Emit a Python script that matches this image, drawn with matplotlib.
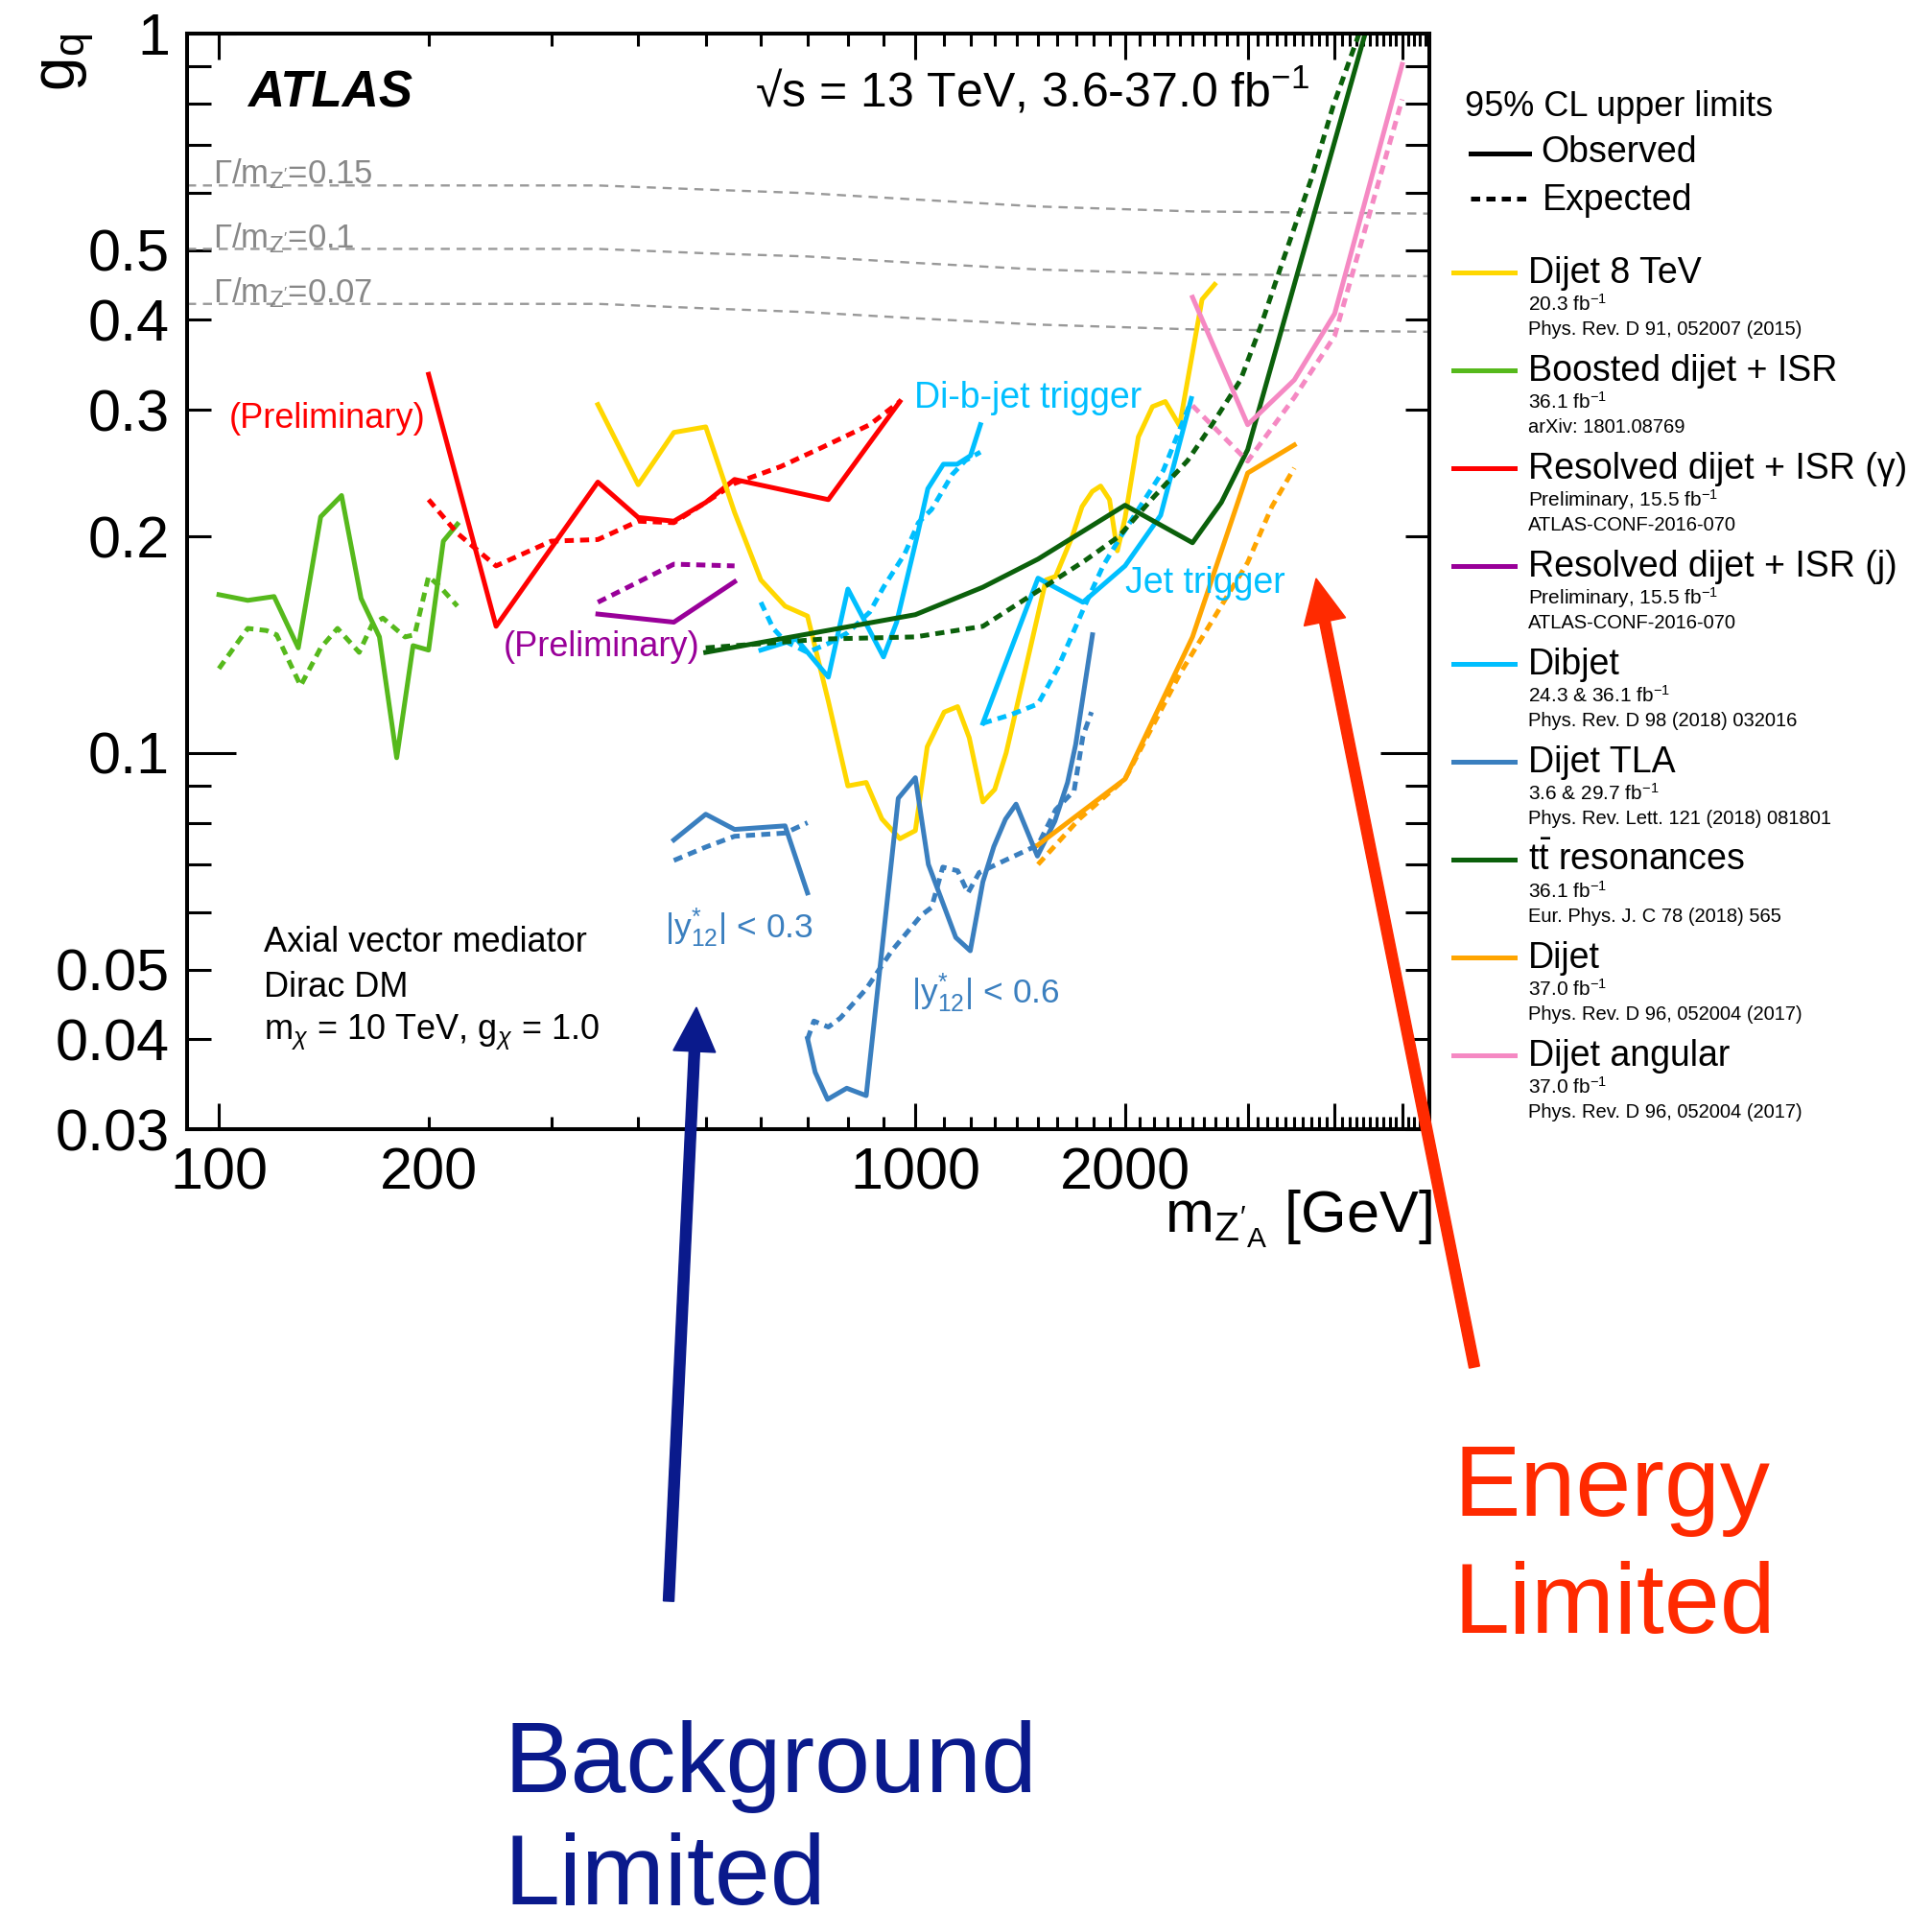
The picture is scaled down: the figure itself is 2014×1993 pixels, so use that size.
import matplotlib
matplotlib.use('Agg')
import matplotlib.pyplot as plt
from matplotlib.patches import FancyArrow
from matplotlib.transforms import IdentityTransform

plt.rcParams['font.family'] = ['Liberation Sans', 'DejaVu Sans']
plt.rcParams['mathtext.fontset'] = 'custom'
plt.rcParams['mathtext.rm'] = 'Liberation Sans'
plt.rcParams['mathtext.it'] = 'Liberation Sans:italic'
plt.rcParams['mathtext.bf'] = 'Liberation Sans:bold'

# ---------------- data ----------------
# Boosted dijet + ISR
boost_x = [100, 110, 120, 130, 140, 150, 160, 170, 180, 190, 200, 210, 220]
boost_obs = [0.166, 0.163, 0.165, 0.140, 0.213, 0.228, 0.164, 0.145, 0.0985, 0.141, 0.139, 0.197, 0.208]
boost_exp_x = [100, 110, 117, 121, 131, 140, 148, 159, 166, 172, 185, 191, 200, 208, 220]
boost_exp = [0.131, 0.149, 0.148, 0.146, 0.124, 0.140, 0.149, 0.138, 0.151, 0.154, 0.145, 0.146, 0.176, 0.170, 0.160]

# Resolved dijet + ISR (gamma)
resg_x = [200, 250, 350, 400, 450, 500, 550, 750, 950]
resg_obs = [0.336, 0.150, 0.238, 0.2125, 0.210, 0.223, 0.240, 0.225, 0.308]
resg_exp_x = [200, 220, 250, 300, 350, 400, 450, 500, 550, 640, 735, 860, 950]
resg_exp = [0.225, 0.202, 0.182, 0.197, 0.198, 0.210, 0.209, 0.223, 0.237, 0.250, 0.266, 0.286, 0.308]

# Resolved dijet + ISR (j)
resj_x = [350, 450, 550]
resj_obs = [0.156, 0.152, 0.173]
resj_exp = [0.162, 0.183, 0.182]

# Dijet 8 TeV
d8_x = [350, 400, 450, 500, 550, 600, 650, 700, 750, 800, 850, 895, 950, 1000, 1040, 1100, 1150,
        1195, 1250, 1300, 1350, 1540, 1590, 1680, 1735, 1795, 1845, 1900, 1950, 2000, 2090, 2190,
        2285, 2395, 2580, 2690]
d8_obs = [0.305, 0.236, 0.279, 0.284, 0.216, 0.174, 0.160, 0.155, 0.118, 0.090, 0.091, 0.081, 0.076,
          0.078, 0.102, 0.114, 0.116, 0.105, 0.0855, 0.089, 0.100, 0.174, 0.176, 0.200, 0.220, 0.231,
          0.235, 0.225, 0.191, 0.212, 0.275, 0.303, 0.308, 0.285, 0.427, 0.448]

# Dibjet: di-b-jet trigger and jet trigger
dbb_x = [600, 675, 750, 800, 900, 940, 1008, 1042, 1097, 1148, 1200, 1240]
dbb_obs = [0.139, 0.144, 0.1275, 0.169, 0.136, 0.152, 0.202, 0.233, 0.252, 0.252, 0.259, 0.286]
dbb_exp_x = [600, 625, 650, 700, 750, 800, 860, 900, 965, 1010, 1055, 1130, 1180, 1240]
dbb_exp = [0.162, 0.149, 0.143, 0.138, 0.142, 0.147, 0.157, 0.170, 0.189, 0.209, 0.218, 0.244, 0.255, 0.262]
djt_x = [1250, 1500, 1740, 2000, 2250, 2490]
djt_obs = [0.110, 0.175, 0.162, 0.182, 0.214, 0.311]
djt_exp_x = [1250, 1370, 1500, 1600, 1750, 1860, 1960, 2270, 2470]
djt_exp = [0.110, 0.113, 0.117, 0.131, 0.160, 0.182, 0.198, 0.247, 0.303]

# Dijet TLA, |y*12| < 0.3 and < 0.6
tla3_x = [450, 500, 550, 650, 700]
tla3_obs = [0.0757, 0.0822, 0.0783, 0.0792, 0.0639]
tla3_exp = [0.0709, 0.0740, 0.0766, 0.0774, 0.0800]
tla6_x = [700, 718, 748, 797, 850, 945, 1000, 1044, 1143, 1199, 1250, 1296, 1347, 1395, 1497,
          1586, 1654, 1699, 1796]
tla6_obs = [0.0401, 0.036, 0.033, 0.0342, 0.0334, 0.0865, 0.0924, 0.070, 0.0554, 0.0531, 0.0662,
            0.0741, 0.0809, 0.0849, 0.0719, 0.0804, 0.091, 0.1028, 0.146]
tla6_exp_x = [700, 715, 750, 780, 850, 925, 1020, 1055, 1095, 1150, 1190, 1235, 1340, 1500, 1590,
              1690, 1740, 1790]
tla6_exp = [0.040, 0.0424, 0.0416, 0.0428, 0.047, 0.0531, 0.0595, 0.061, 0.0694, 0.0686, 0.0639,
            0.0682, 0.0708, 0.0745, 0.0834, 0.0886, 0.1055, 0.114]

# ttbar resonances
tt_x = [500, 1000, 1250, 1500, 2000, 2500, 2750, 3000, 4500]
tt_obs = [0.138, 0.1557, 0.170, 0.186, 0.221, 0.196, 0.223, 0.264, 1.06]
tt_exp_x = [500, 735, 1000, 1250, 1500, 1750, 1960, 2200, 2460, 2660, 2930, 3130, 3350, 3700, 3980, 4400]
tt_exp = [0.140, 0.144, 0.145, 0.150, 0.168, 0.185, 0.200, 0.227, 0.255, 0.285, 0.330, 0.391, 0.475,
          0.627, 0.793, 1.04]

# Dijet
dj_x = [1500, 2000, 2500, 3000, 3500]
dj_obs = [0.0745, 0.092, 0.145, 0.245, 0.268]
dj_exp_x = [1500, 1720, 2000, 2400, 3000, 3250, 3500]
dj_exp = [0.070, 0.081, 0.092, 0.129, 0.184, 0.220, 0.249]

# Dijet angular
ang_x = [2500, 3000, 3500, 4000, 5000]
ang_obs = [0.43, 0.286, 0.330, 0.408, 0.906]
ang_exp = [0.304, 0.2545, 0.312, 0.380, 0.81]

# Gamma/m_Z' width lines
width_x = [90, 350, 500, 700, 1000, 1500, 2500, 5470]
width_015 = [0.615, 0.615, 0.607, 0.600, 0.588, 0.575, 0.566, 0.562]
width_010 = [0.502, 0.502, 0.495, 0.490, 0.480, 0.470, 0.463, 0.460]
width_007 = [0.421, 0.421, 0.415, 0.410, 0.402, 0.394, 0.388, 0.385]
width_labels = ['0.15', '0.1', '0.07']

# legend
leg_names = ['Dijet 8 TeV', 'Boosted dijet + ISR', 'Resolved dijet + ISR (γ)', 'Resolved dijet + ISR (j)',
             'Dibjet', 'Dijet TLA', r'$\mathrm{t\bar{t}}$ resonances', 'Dijet', 'Dijet angular']
leg_lumi = ['20.3 fb$^{-1}$', '36.1 fb$^{-1}$', 'Preliminary, 15.5 fb$^{-1}$', 'Preliminary, 15.5 fb$^{-1}$',
            '24.3 & 36.1 fb$^{-1}$', '3.6 & 29.7 fb$^{-1}$', '36.1 fb$^{-1}$', '37.0 fb$^{-1}$', '37.0 fb$^{-1}$']
leg_ref = ['Phys. Rev. D 91, 052007 (2015)', 'arXiv: 1801.08769', 'ATLAS-CONF-2016-070',
           'ATLAS-CONF-2016-070', 'Phys. Rev. D 98 (2018) 032016', 'Phys. Rev. Lett. 121 (2018) 081801',
           'Eur. Phys. J. C 78 (2018) 565', 'Phys. Rev. D 96, 052004 (2017)', 'Phys. Rev. D 96, 052004 (2017)']

c_d8 = '#FFD700'
c_boost = '#56B91C'
c_red = '#FF0000'
c_purple = '#990099'
c_dib = '#00BFFF'
c_tla = '#3A7FBF'
c_tt = '#0B600B'
c_dj = '#FFA500'
c_ang = '#F589C3'
leg_colors = [c_d8, c_boost, c_red, c_purple, c_dib, c_tla, c_tt, c_dj, c_ang]

# ---------------- figure ----------------
W, H = 2014, 1993
fig = plt.figure(figsize=(W / 100, H / 100), dpi=100)
ax = fig.add_axes([195 / W, 1 - 1177 / H, (1490 - 195) / W, (1177 - 35) / H])
ax.set_xscale('log')
ax.set_yscale('log')
ax.set_xlim(90, 5470)
ax.set_ylim(0.03, 1.0)

LW = 3.6
DASH = (0, (1.9, 1.3))


def curve(x, y, color, dashed=False):
    ax.plot(x, y, color=color, lw=LW, ls=DASH if dashed else '-')


# width lines
for wy, lab in zip([width_015, width_010, width_007], width_labels):
    ax.plot(width_x, wy, color='#999999', lw=1.7, ls=(0, (4.0, 3.0)))
    ax.text(98, wy[0] * 1.005, r"$\Gamma$/m$_{\mathrm{Z'}}$=" + lab, color='#888888', fontsize=25,
            ha='left', va='baseline')

curve(boost_x, boost_obs, c_boost)
curve(boost_exp_x, boost_exp, c_boost, True)
curve(resg_x, resg_obs, c_red)
curve(resg_exp_x, resg_exp, c_red, True)
curve(resj_x, resj_obs, c_purple)
curve(resj_x, resj_exp, c_purple, True)
curve(d8_x, d8_obs, c_d8)
curve(dbb_x, dbb_obs, c_dib)
curve(dbb_exp_x, dbb_exp, c_dib, True)
curve(djt_x, djt_obs, c_dib)
curve(djt_exp_x, djt_exp, c_dib, True)
curve(tla3_x, tla3_obs, c_tla)
curve(tla3_x, tla3_exp, c_tla, True)
curve(tla6_x, tla6_obs, c_tla)
curve(tla6_exp_x, tla6_exp, c_tla, True)
curve(tt_x, tt_obs, c_tt)
curve(tt_exp_x, tt_exp, c_tt, True)
curve(dj_x, dj_obs, c_dj)
curve(dj_exp_x, dj_exp, c_dj, True)
curve(ang_x, ang_obs, c_ang)
curve(ang_x, ang_exp, c_ang, True)

# in-plot labels
ax.text(103.5, 0.283, '(Preliminary)', color=c_red, fontsize=26, ha='left', va='baseline')
ax.text(256, 0.1365, '(Preliminary)', color=c_purple, fontsize=26, ha='left', va='baseline')
ax.text(996, 0.302, 'Di-b-jet trigger', color=c_dib, fontsize=27, ha='left', va='baseline')
ax.text(2000, 0.167, 'Jet trigger', color=c_dib, fontsize=27, ha='left', va='baseline')
ax.text(437, 0.0554, r'|$\mathrm{y^{*}_{12}}$| < 0.3', color=c_tla, fontsize=25.5, ha='left', va='baseline')
ax.text(987, 0.045, r'|$\mathrm{y^{*}_{12}}$| < 0.6', color=c_tla, fontsize=25.5, ha='left', va='baseline')
ax.text(116, 0.0529, 'Axial vector mediator', fontsize=26, ha='left', va='baseline')
ax.text(116, 0.0458, 'Dirac DM', fontsize=26, ha='left', va='baseline')
ax.text(116, 0.0399, r'm$_{\chi}$ = 10 TeV, g$_{\chi}$ = 1.0', fontsize=26, ha='left', va='baseline')

# axes styling
for s in ax.spines.values():
    s.set_linewidth(2.9)
xmaj = [100, 1000, 2000, 3000, 4000, 5000]
xmin = [v for v in range(200, 1000, 100)] + [v for v in range(1100, 2000, 100)] + \
       [v for v in range(2100, 5470, 100) if v % 1000 != 0]
ax.set_xticks(xmaj)
ax.set_xticklabels(['100', '1000', '2000', '', '', ''])
ax.set_xticks(xmin, minor=True)
ax.set_xticklabels(['200' if v == 200 else '' for v in xmin], minor=True)
ymaj = [0.1, 1.0]
ymin = [0.03, 0.04, 0.05, 0.06, 0.07, 0.08, 0.09, 0.2, 0.3, 0.4, 0.5, 0.6, 0.7, 0.8, 0.9]
ylab_show = {0.03: '0.03', 0.04: '0.04', 0.05: '0.05', 0.2: '0.2', 0.3: '0.3', 0.4: '0.4', 0.5: '0.5'}
ax.set_yticks(ymaj)
ax.set_yticklabels(['0.1', '1'])
ax.set_yticks(ymin, minor=True)
ax.set_yticklabels([ylab_show.get(v, '') for v in ymin], minor=True)
ax.tick_params(which='both', direction='in', top=True, right=True, width=2.2, labelsize=44)
ax.tick_params(axis='x', which='major', length=19.5, pad=13)
ax.tick_params(axis='x', which='minor', length=9.5, pad=13)
ax.tick_params(axis='y', which='major', length=37, pad=13)
ax.tick_params(axis='y', which='minor', length=18, pad=13)


def ftext(x, y, s, **kw):
    fig.text(x / W, 1 - y / H, s, **kw)


# header texts
ftext(258, 112, 'ATLAS', fontsize=38, fontweight='bold', fontstyle='italic', va='baseline')
ftext(787, 112, '√s = 13 TeV, 3.6-37.0 fb$^{-1}$', fontsize=36, va='baseline')

# axis titles
ftext(70, 35, r'g$_{\mathrm{q}}$', fontsize=46, rotation=90, ha='center', va='top')
ftext(1493, 1285, r"m$_{\mathrm{Z'_{A}}}$ [GeV]", fontsize=44, ha='right', va='baseline')

# legend
ftext(1527, 121, '95% CL upper limits', fontsize=26, va='baseline')
fig.add_artist(plt.Line2D([1533 / W, 1594 / W], [1 - 160 / H, 1 - 160 / H], color='black', lw=LW))
ftext(1606, 169, 'Observed', fontsize=27, va='baseline')
fig.add_artist(plt.Line2D([1533 / W, 1594 / W], [1 - 207 / H, 1 - 207 / H], color='black', lw=LW,
                          ls=DASH))
ftext(1608, 219, 'Expected', fontsize=27, va='baseline')
for i, (nm, lu, rf, col) in enumerate(zip(leg_names, leg_lumi, leg_ref, leg_colors)):
    y0 = 284 + i * 102
    fig.add_artist(plt.Line2D([1515 / W, 1579 / W], [1 - y0 / H, 1 - y0 / H], color=col, lw=LW))
    ftext(1593, y0 + 11, nm, fontsize=27, va='baseline')
    ftext(1593, y0 + 40, lu, fontsize=15, va='baseline')
    ftext(1593, y0 + 65, rf, fontsize=14.5, va='baseline')

# annotation arrows (display pixels, origin bottom-left)
blue = '#0A1A8C'
redarr = '#FF2A00'
fig.add_artist(FancyArrow(697, H - 1669, 726 - 697, 1669 - 1050, width=11, head_width=44, head_length=46,
                          length_includes_head=True, color=blue, transform=IdentityTransform()))
fig.add_artist(FancyArrow(1537, H - 1425, 1372 - 1537, 1425 - 603, width=11, head_width=44, head_length=46,
                          length_includes_head=True, color=redarr, transform=IdentityTransform()))
ftext(526, 1868, 'Background', fontsize=75, color=blue, va='baseline')
ftext(526, 1985, 'Limited', fontsize=75, color=blue, va='baseline')
ftext(1515, 1580, 'Energy', fontsize=75, color=redarr, va='baseline')
ftext(1515, 1702, 'Limited', fontsize=75, color=redarr, va='baseline')

fig.savefig('out.png', dpi=100)
